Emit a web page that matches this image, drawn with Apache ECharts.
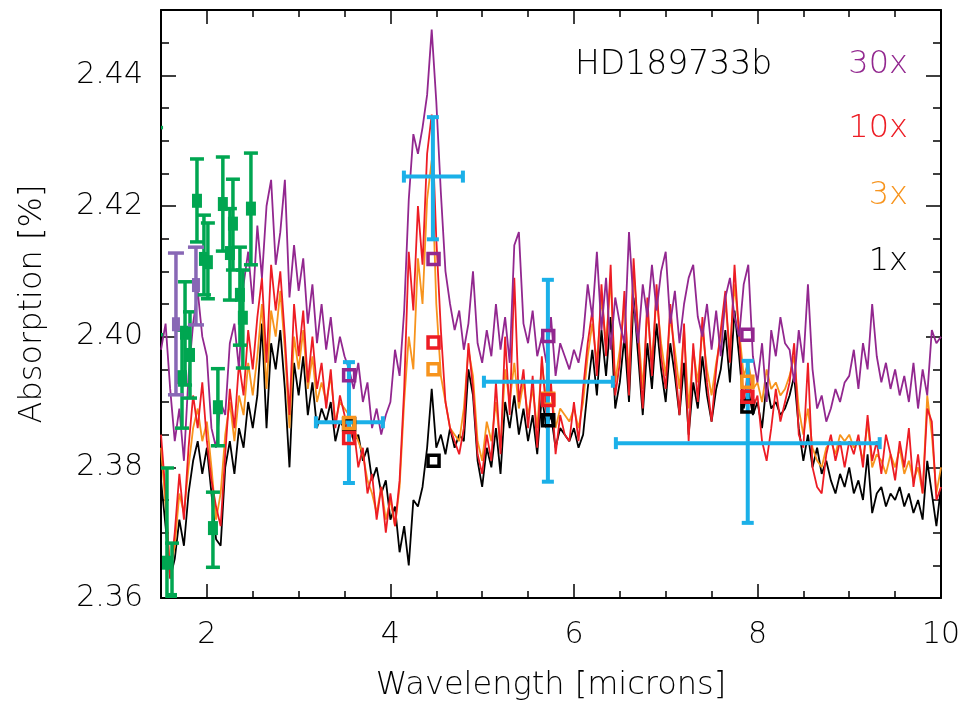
<!DOCTYPE html>
<html><head><meta charset="utf-8">
<script src="https://cdn.jsdelivr.net/npm/echarts@6/dist/echarts.min.js"></script>
<style>html,body{margin:0;padding:0;background:#fff}#c{width:966px;height:707px}</style>
</head><body><div id="c"></div>
<script>
// ---------- DATA ----------
const wavelength = [
1.50,1.55,1.60,1.65,1.70,1.75,1.80,1.85,1.90,1.95,
2.00,2.05,2.10,2.15,2.20,2.25,2.30,2.35,2.40,2.45,
2.50,2.55,2.60,2.65,2.70,2.75,2.80,2.85,2.90,2.95,
3.00,3.05,3.10,3.15,3.20,3.25,3.30,3.35,3.40,3.45,
3.50,3.55,3.60,3.65,3.70,3.75,3.80,3.85,3.90,3.95,
4.00,4.05,4.10,4.15,4.20,4.25,4.30,4.35,4.40,4.45,
4.50,4.55,4.60,4.65,4.70,4.75,4.80,4.85,4.90,4.95,
5.00,5.05,5.10,5.15,5.20,5.25,5.30,5.35,5.40,5.45,
5.50,5.55,5.60,5.65,5.70,5.75,5.80,5.85,5.90,5.95,
6.00,6.05,6.10,6.15,6.20,6.25,6.30,6.35,6.40,6.45,
6.50,6.55,6.60,6.65,6.70,6.75,6.80,6.85,6.90,6.95,
7.00,7.05,7.10,7.15,7.20,7.25,7.30,7.35,7.40,7.45,
7.50,7.55,7.60,7.65,7.70,7.75,7.80,7.85,7.90,7.95,
8.00,8.05,8.10,8.15,8.20,8.25,8.30,8.35,8.40,8.45,
8.50,8.55,8.60,8.65,8.70,8.75,8.80,8.85,8.90,8.95,
9.00,9.05,9.10,9.15,9.20,9.25,9.30,9.35,9.40,9.45,
9.50,9.55,9.60,9.65,9.70,9.75,9.80,9.85,9.90,9.95,
10.00];

const absorption1x = [
2.378,2.371,2.363,2.366,2.372,2.368,2.376,2.381,2.384,2.379,
2.383,2.376,2.369,2.368,2.380,2.384,2.379,2.386,2.383,2.390,
2.386,2.391,2.402,2.386,2.399,2.395,2.401,2.392,2.380,2.396,
2.391,2.397,2.388,2.393,2.386,2.389,2.387,2.390,2.384,2.387,
2.386,2.387,2.384,2.385,2.381,2.383,2.378,2.380,2.376,2.378,
2.372,2.374,2.367,2.371,2.365,2.375,2.374,2.377,2.383,2.392,
2.383,2.385,2.382,2.386,2.383,2.385,2.384,2.395,2.391,2.381,
2.377,2.383,2.380,2.386,2.379,2.390,2.386,2.391,2.385,2.389,
2.384,2.388,2.382,2.391,2.386,2.388,2.383,2.386,2.385,2.384,
2.386,2.383,2.385,2.392,2.398,2.391,2.401,2.394,2.403,2.389,
2.393,2.400,2.390,2.406,2.397,2.388,2.399,2.392,2.402,2.395,
2.390,2.399,2.394,2.388,2.396,2.385,2.393,2.389,2.397,2.391,
2.387,2.392,2.395,2.401,2.393,2.404,2.397,2.389,2.392,2.388,
2.390,2.386,2.393,2.389,2.390,2.388,2.389,2.391,2.394,2.386,
2.381,2.385,2.380,2.383,2.379,2.381,2.378,2.376,2.379,2.377,
2.380,2.376,2.378,2.375,2.382,2.373,2.376,2.377,2.374,2.376,
2.375,2.377,2.374,2.376,2.373,2.375,2.372,2.381,2.376,2.371,
2.377];

const absorption3x = [
2.383,2.374,2.364,2.368,2.376,2.373,2.380,2.386,2.389,2.384,
2.387,2.380,2.372,2.376,2.385,2.390,2.384,2.391,2.388,2.396,
2.391,2.397,2.405,2.392,2.404,2.400,2.407,2.398,2.386,2.400,
2.395,2.401,2.392,2.397,2.390,2.393,2.390,2.394,2.387,2.390,
2.389,2.388,2.386,2.384,2.382,2.378,2.376,2.373,2.377,2.372,
2.375,2.371,2.377,2.390,2.400,2.395,2.412,2.405,2.421,2.427,
2.405,2.394,2.390,2.386,2.385,2.384,2.389,2.398,2.394,2.384,
2.381,2.387,2.384,2.390,2.383,2.395,2.390,2.396,2.389,2.393,
2.388,2.392,2.386,2.396,2.390,2.392,2.386,2.389,2.388,2.387,
2.389,2.386,2.390,2.397,2.402,2.396,2.406,2.399,2.409,2.393,
2.398,2.405,2.394,2.410,2.401,2.392,2.404,2.396,2.406,2.399,
2.394,2.403,2.398,2.392,2.401,2.389,2.398,2.393,2.401,2.395,
2.391,2.396,2.400,2.405,2.398,2.408,2.401,2.394,2.396,2.392,
2.393,2.390,2.395,2.392,2.393,2.391,2.392,2.394,2.397,2.389,
2.385,2.389,2.383,2.381,2.380,2.383,2.384,2.382,2.385,2.384,
2.385,2.383,2.384,2.381,2.387,2.380,2.382,2.381,2.379,2.382,
2.380,2.383,2.379,2.381,2.378,2.380,2.376,2.391,2.385,2.376,
2.380];

const absorption10x = [
2.385,2.376,2.363,2.370,2.379,2.372,2.383,2.391,2.386,2.393,
2.384,2.378,2.374,2.371,2.382,2.392,2.386,2.396,2.391,2.401,
2.395,2.403,2.409,2.396,2.411,2.404,2.410,2.400,2.388,2.405,
2.397,2.404,2.393,2.400,2.392,2.396,2.389,2.395,2.386,2.391,
2.388,2.384,2.386,2.380,2.383,2.376,2.379,2.372,2.377,2.370,
2.376,2.371,2.378,2.392,2.413,2.404,2.420,2.411,2.428,2.434,
2.415,2.401,2.390,2.386,2.384,2.382,2.386,2.399,2.392,2.382,
2.379,2.385,2.381,2.393,2.382,2.400,2.388,2.409,2.390,2.395,
2.386,2.394,2.383,2.397,2.388,2.393,2.382,2.388,2.385,2.384,
2.390,2.384,2.392,2.399,2.404,2.394,2.408,2.397,2.411,2.391,
2.396,2.407,2.391,2.412,2.400,2.389,2.406,2.394,2.408,2.397,
2.392,2.405,2.396,2.388,2.402,2.384,2.399,2.390,2.403,2.393,
2.387,2.395,2.401,2.407,2.396,2.411,2.400,2.390,2.395,2.389,
2.391,2.384,2.381,2.386,2.392,2.387,2.390,2.393,2.399,2.385,
2.383,2.396,2.380,2.377,2.376,2.382,2.385,2.381,2.384,2.380,
2.384,2.382,2.385,2.380,2.388,2.381,2.384,2.379,2.385,2.382,
2.378,2.384,2.380,2.386,2.377,2.382,2.376,2.389,2.387,2.375,
2.377];

const absorption30x = [
2.398,2.402,2.392,2.384,2.389,2.381,2.394,2.402,2.407,2.400,
2.397,2.386,2.383,2.390,2.388,2.399,2.402,2.395,2.408,2.413,
2.405,2.417,2.409,2.420,2.424,2.411,2.416,2.424,2.406,2.414,
2.407,2.412,2.402,2.408,2.399,2.405,2.398,2.403,2.396,2.400,
2.397,2.395,2.392,2.396,2.390,2.393,2.386,2.389,2.385,2.388,
2.390,2.398,2.394,2.404,2.421,2.431,2.428,2.432,2.437,2.447,
2.436,2.422,2.410,2.405,2.401,2.404,2.398,2.402,2.410,2.399,
2.396,2.401,2.397,2.405,2.398,2.403,2.396,2.414,2.416,2.402,
2.399,2.404,2.397,2.400,2.396,2.403,2.394,2.399,2.397,2.395,
2.398,2.396,2.400,2.408,2.403,2.413,2.401,2.409,2.398,2.406,
2.402,2.399,2.416,2.405,2.399,2.408,2.403,2.411,2.404,2.410,
2.413,2.402,2.407,2.399,2.405,2.409,2.411,2.403,2.400,2.405,
2.398,2.404,2.397,2.406,2.409,2.403,2.400,2.408,2.411,2.397,
2.393,2.399,2.390,2.401,2.397,2.403,2.399,2.398,2.393,2.401,
2.396,2.408,2.395,2.389,2.391,2.387,2.389,2.392,2.390,2.393,
2.394,2.398,2.392,2.399,2.395,2.405,2.397,2.393,2.396,2.392,
2.395,2.391,2.394,2.390,2.396,2.389,2.395,2.391,2.401,2.399,
2.400];

// Spitzer band observations (cyan)
const spitzerX    = [3.548, 4.463, 5.716, 7.894];
const spitzerXLo  = [3.188, 4.147, 5.019, 6.457];
const spitzerXHi  = [3.918, 4.790, 6.424, 9.332];
const spitzerY    = [2.3869, 2.4245, 2.3931, 2.3837];
const spitzerYLo  = [2.3776, 2.4149, 2.3778, 2.3715];
const spitzerYHi  = [2.3961, 2.4336, 2.4087, 2.3963];

// Band-averaged model values (hollow squares)
const bandX       = [3.55, 4.47, 5.72, 7.89];
const band1x      = [2.3866, 2.3810, 2.3872, 2.3893];
const band3x      = [2.3868, 2.3950, 2.3905, 2.3931];
const band10x     = [2.3845, 2.3991, 2.3903, 2.3908];
const band30x     = [2.3941, 2.4119, 2.4001, 2.4003];

// NIR observations (green)
const greenX   = [1.446,1.565,1.620,1.762,1.729,1.816,1.892,1.968,2.011,2.066,2.120,2.174,2.284,2.251,2.360,2.392,2.480];
const greenY   = [2.4163,2.3654,2.3597,2.4006,2.3938,2.3972,2.4208,2.4119,2.4114,2.3707,2.3892,2.4203,2.4173,2.4128,2.4064,2.4029,2.4196];
const greenYLo = [2.4003,2.3520,2.3505,2.3926,2.3860,2.3906,2.4145,2.4064,2.4058,2.3647,2.3833,2.4131,2.4102,2.4056,2.3987,2.3952,2.4110];
const greenYHi = [2.4320,2.3799,2.3684,2.4084,2.4010,2.4038,2.4272,2.4186,2.4174,2.3762,2.3951,2.4275,2.4241,2.4196,2.4137,2.4102,2.4281];

// NIR observations (lavender)
const lavX   = [1.663, 1.881];
const lavY   = [2.4019, 2.4079];
const lavYLo = [2.3911, 2.4018];
const lavYHi = [2.4128, 2.4137];

const xMajorTicks = [2, 4, 6, 8, 10];
const yMajorTicks = [2.36, 2.38, 2.40, 2.42, 2.44];

// ---------- COLORS ----------
const C_BLACK = '#000000', C_ORANGE = '#F7941D', C_RED = '#ED1C24', C_PURPLE = '#92278F';
const C_CYAN = '#1BB0E8', C_GREEN = '#00A651', C_LAV = '#8867B5';
const FONT = 'DejaVu Sans';

const zip = (xs, ys) => xs.map((x, i) => [x, ys[i]]);

function vErr(color, capHalf, lw, sqW, sqH) {
  return function (params, api) {
    const x = api.value(0), y = api.value(1), lo = api.value(2), hi = api.value(3);
    const c = api.coord([x, y]), pl = api.coord([x, lo]), ph = api.coord([x, hi]);
    const st = { stroke: color, lineWidth: lw, fill: null };
    const cs = params.coordSys;
    return {
      type: 'group',
      clipPath: { type: 'rect', shape: { x: cs.x, y: cs.y, width: cs.width, height: cs.height } },
      children: [
        { type: 'line', shape: { x1: c[0], y1: pl[1], x2: c[0], y2: ph[1] }, style: st },
        { type: 'line', shape: { x1: c[0] - capHalf, y1: pl[1], x2: c[0] + capHalf, y2: pl[1] }, style: st },
        { type: 'line', shape: { x1: c[0] - capHalf, y1: ph[1], x2: c[0] + capHalf, y2: ph[1] }, style: st },
        { type: 'rect', shape: { x: c[0] - sqW / 2, y: c[1] - sqH / 2, width: sqW, height: sqH }, style: { fill: color } }
      ]
    };
  };
}

function xyErr(color, capHalf, lw) {
  return function (params, api) {
    const x = api.value(0), y = api.value(1);
    const xl = api.value(2), xh = api.value(3), yl = api.value(4), yh = api.value(5);
    const c = api.coord([x, y]);
    const pxl = api.coord([xl, y])[0], pxh = api.coord([xh, y])[0];
    const pyl = api.coord([x, yl])[1], pyh = api.coord([x, yh])[1];
    const st = { stroke: color, lineWidth: lw, fill: null };
    return {
      type: 'group',
      children: [
        { type: 'line', shape: { x1: c[0], y1: pyl, x2: c[0], y2: pyh }, style: st },
        { type: 'line', shape: { x1: c[0] - capHalf, y1: pyl, x2: c[0] + capHalf, y2: pyl }, style: st },
        { type: 'line', shape: { x1: c[0] - capHalf, y1: pyh, x2: c[0] + capHalf, y2: pyh }, style: st },
        { type: 'line', shape: { x1: pxl, y1: c[1], x2: pxh, y2: c[1] }, style: st },
        { type: 'line', shape: { x1: pxl, y1: c[1] - capHalf, x2: pxl, y2: c[1] + capHalf }, style: st },
        { type: 'line', shape: { x1: pxh, y1: c[1] - capHalf, x2: pxh, y2: c[1] + capHalf }, style: st }
      ]
    };
  };
}

function lineSeries(name, ys, color, z) {
  return {
    name, type: 'line', data: zip(wavelength, ys), showSymbol: false, symbol: 'none',
    lineStyle: { color, width: 1.8 }, z, animation: false, clip: true
  };
}
function squareSeries(ys, color, z) {
  return {
    type: 'scatter', data: zip(bandX, ys), symbol: 'rect', symbolSize: 11,
    itemStyle: { color: 'rgba(0,0,0,0)', borderColor: color, borderWidth: 3.5, opacity: 1 },
    z, animation: false
  };
}

const axisLineStyle = { color: '#000', width: 2 };
const labelStyle = { color: '#000', fontSize: 30, fontFamily: FONT, fontWeight: 200 };

const chart = echarts.init(document.getElementById('c'), null, { renderer: 'canvas' });
chart.setOption({
  animation: false,
  backgroundColor: '#fff',
  grid: { left: 161, right: 25, top: 10, bottom: 109, containLabel: false },
  xAxis: [
    { type: 'value', position: 'bottom', min: 1.5, max: 10,
      axisLine: { show: true, onZero: false, lineStyle: axisLineStyle },
      axisTick: { show: true, inside: true, length: 14, customValues: xMajorTicks, lineStyle: { color: '#000', width: 1.5 } },
      axisLabel: { show: true, customValues: xMajorTicks, margin: 22, ...labelStyle },
      splitLine: { show: false },
      name: 'Wavelength [microns]', nameLocation: 'middle', nameGap: 72,
      nameTextStyle: { color: '#000', fontSize: 32, fontFamily: FONT, fontWeight: 200 } },
    { type: 'value', position: 'bottom', min: 1.5, max: 10, interval: 0.5,
      axisLine: { show: false, onZero: false },
      axisTick: { show: true, inside: true, length: 7, lineStyle: { color: '#000', width: 1.5 } },
      axisLabel: { show: false }, splitLine: { show: false } },
    { type: 'value', position: 'top', min: 1.5, max: 10,
      axisLine: { show: true, onZero: false, lineStyle: axisLineStyle },
      axisTick: { show: true, inside: true, length: 14, customValues: xMajorTicks, lineStyle: { color: '#000', width: 1.5 } },
      axisLabel: { show: false }, splitLine: { show: false } },
    { type: 'value', position: 'top', min: 1.5, max: 10, interval: 0.5,
      axisLine: { show: false, onZero: false },
      axisTick: { show: true, inside: true, length: 7, lineStyle: { color: '#000', width: 1.5 } },
      axisLabel: { show: false }, splitLine: { show: false } }
  ],
  yAxis: [
    { type: 'value', position: 'left', min: 2.36, max: 2.45,
      axisLine: { show: true, onZero: false, lineStyle: axisLineStyle },
      axisTick: { show: true, inside: true, length: 15, customValues: yMajorTicks, lineStyle: { color: '#000', width: 1.5 } },
      axisLabel: { show: true, customValues: yMajorTicks, margin: 18, formatter: v => Number(v).toFixed(2), ...labelStyle },
      splitLine: { show: false },
      name: 'Absorption [%]', nameLocation: 'middle', nameGap: 112, nameRotate: 90,
      nameTextStyle: { color: '#000', fontSize: 32, fontFamily: FONT, fontWeight: 200 } },
    { type: 'value', position: 'left', min: 2.36, max: 2.45, interval: 0.005,
      axisLine: { show: false, onZero: false },
      axisTick: { show: true, inside: true, length: 8, lineStyle: { color: '#000', width: 1.5 } },
      axisLabel: { show: false }, splitLine: { show: false } },
    { type: 'value', position: 'right', min: 2.36, max: 2.45,
      axisLine: { show: true, onZero: false, lineStyle: axisLineStyle },
      axisTick: { show: true, inside: true, length: 15, customValues: yMajorTicks, lineStyle: { color: '#000', width: 1.5 } },
      axisLabel: { show: false }, splitLine: { show: false } },
    { type: 'value', position: 'right', min: 2.36, max: 2.45, interval: 0.005,
      axisLine: { show: false, onZero: false },
      axisTick: { show: true, inside: true, length: 8, lineStyle: { color: '#000', width: 1.5 } },
      axisLabel: { show: false }, splitLine: { show: false } }
  ],
  series: [
    lineSeries('1x', absorption1x, C_BLACK, 2),
    lineSeries('3x', absorption3x, C_ORANGE, 3),
    lineSeries('10x', absorption10x, C_RED, 4),
    lineSeries('30x', absorption30x, C_PURPLE, 5),
    { type: 'custom', renderItem: xyErr(C_CYAN, 6, 4), z: 6, animation: false,
      data: spitzerX.map((x, i) => [x, spitzerY[i], spitzerXLo[i], spitzerXHi[i], spitzerYLo[i], spitzerYHi[i]]),
      encode: { x: 0, y: 1 } },
    squareSeries(band1x, C_BLACK, 7),
    squareSeries(band3x, C_ORANGE, 8),
    squareSeries(band10x, C_RED, 9),
    squareSeries(band30x, C_PURPLE, 10),
    { type: 'custom', renderItem: vErr(C_GREEN, 7, 3.5, 10, 14), z: 11, animation: false,
      data: greenX.map((x, i) => [x, greenY[i], greenYLo[i], greenYHi[i]]), encode: { x: 0, y: 1 } },
    { type: 'custom', renderItem: vErr(C_LAV, 8, 3.5, 8, 14), z: 12, animation: false,
      data: lavX.map((x, i) => [x, lavY[i], lavYLo[i], lavYHi[i]]), encode: { x: 0, y: 1 } }
  ],
  graphic: [
    { type: 'text', left: 575, top: 49, style: { text: 'HD189733b', fill: '#000', font: `200 33px "${FONT}"` } },
    { type: 'text', right: 58, top: 49, style: { text: '30x', fill: C_PURPLE, font: `200 32px "${FONT}"` } },
    { type: 'text', right: 58, top: 113, style: { text: '10x', fill: C_RED, font: `200 32px "${FONT}"` } },
    { type: 'text', right: 58, top: 180, style: { text: '3x', fill: C_ORANGE, font: `200 32px "${FONT}"` } },
    { type: 'text', right: 58, top: 246, style: { text: '1x', fill: C_BLACK, font: `200 32px "${FONT}"` } }
  ]
});
</script>
</body></html>
